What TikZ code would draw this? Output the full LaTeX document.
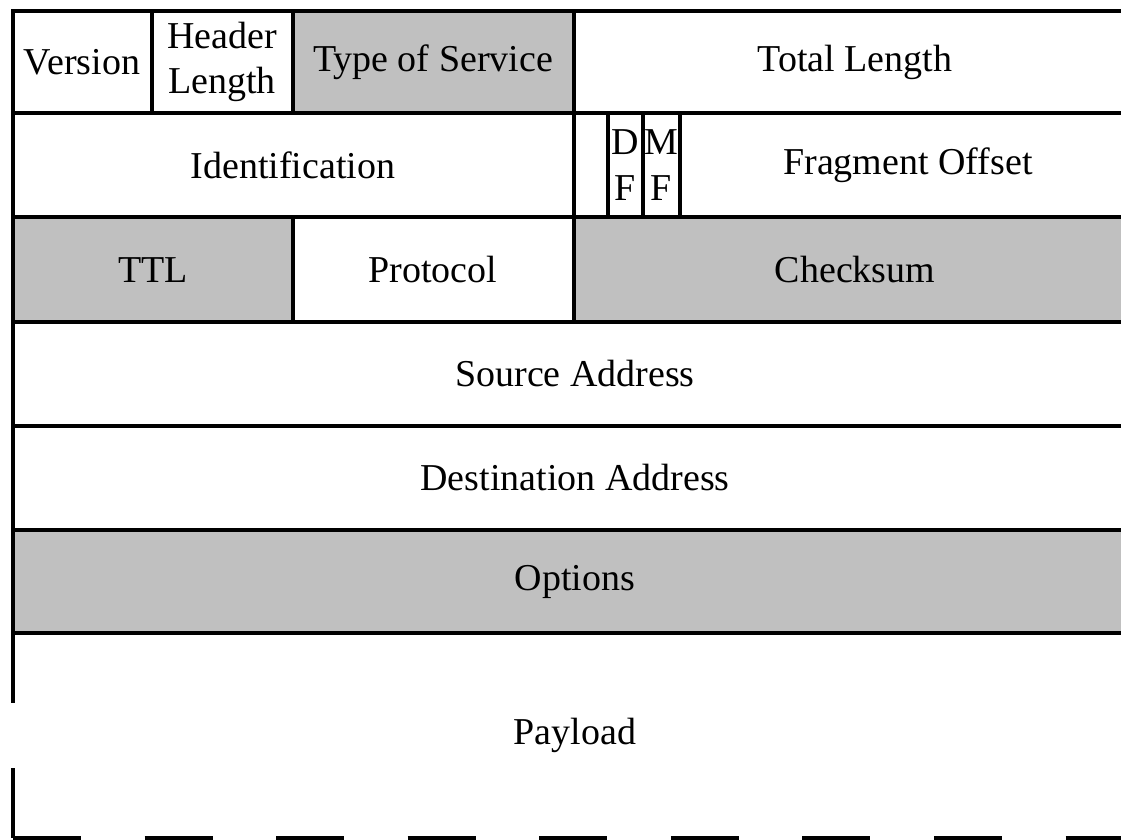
\documentclass[tikz,border=0pt]{standalone}
\usepackage{fontspec}
\setmainfont{Liberation Serif}
\definecolor{fieldgray}{RGB}{192,192,192}

\begin{document}
\begin{tikzpicture}[
    x=0.01cm, y=-0.01cm,
    rule/.style={line width=1.2pt},
    shaded/.style={fill=fieldgray},
    field_text/.style={font=\fontsize{10.8}{13}\selectfont, align=center, inner sep=0pt}
]
    \useasboundingbox (0,0) rectangle (1121,840);
    \clip (0,0) rectangle (1121,840);
    % grey fields
    \fill[shaded] (293,11) rectangle (574,113);
    \fill[shaded] (13,217) rectangle (293,322);
    \fill[shaded] (574,217) rectangle (1137,322);
    \fill[shaded] (13,530) rectangle (1137,633);
    % outline and row lines
    \draw[rule] (1137,11) -- (13,11) -- (13,703);
    \draw[rule] (13,768) -- (13,838);
    \foreach \y in {113,217,322,426,530,633}
        \draw[rule] (13,\y) -- (1137,\y);
    \draw[rule, dash pattern=on 0.68cm off 0.635cm] (13,838) -- (1137,838);
    % column dividers
    \draw[rule] (152,11) -- (152,113);
    \draw[rule] (293,11) -- (293,113);
    \draw[rule] (574,11) -- (574,322);
    \foreach \x in {608,643,680}
        \draw[rule] (\x,113) -- (\x,217);
    \draw[rule] (293,217) -- (293,322);
    % field names
    \node[field_text] (version) at (82,62) {Version};
    \node[field_text] (hlen) at (222,62) {Header\\Length};
    \node[field_text] (tos) at (433,62) {Type of Service};
    \node[field_text] (totlen) at (855,62) {Total Length};
    \node[field_text] (ident) at (293,165) {Identification};
    \node[field_text] (df) at (625,165) {D\\F};
    \node[field_text] (mf) at (661,165) {M\\F};
    \node[field_text] (fragoff) at (908,165) {Fragment Offset};
    \node[field_text] (ttl) at (153,270) {TTL};
    \node[field_text] (proto) at (433,270) {Protocol};
    \node[field_text] (chksum) at (855,270) {Checksum};
    \node[field_text] (srcaddr) at (575,374) {Source Address};
    \node[field_text] (dstaddr) at (575,478) {Destination Address};
    \node[field_text] (opts) at (575,582) {Options};
    \node[field_text] (payload) at (575,735) {Payload};
\end{tikzpicture}
\end{document}
